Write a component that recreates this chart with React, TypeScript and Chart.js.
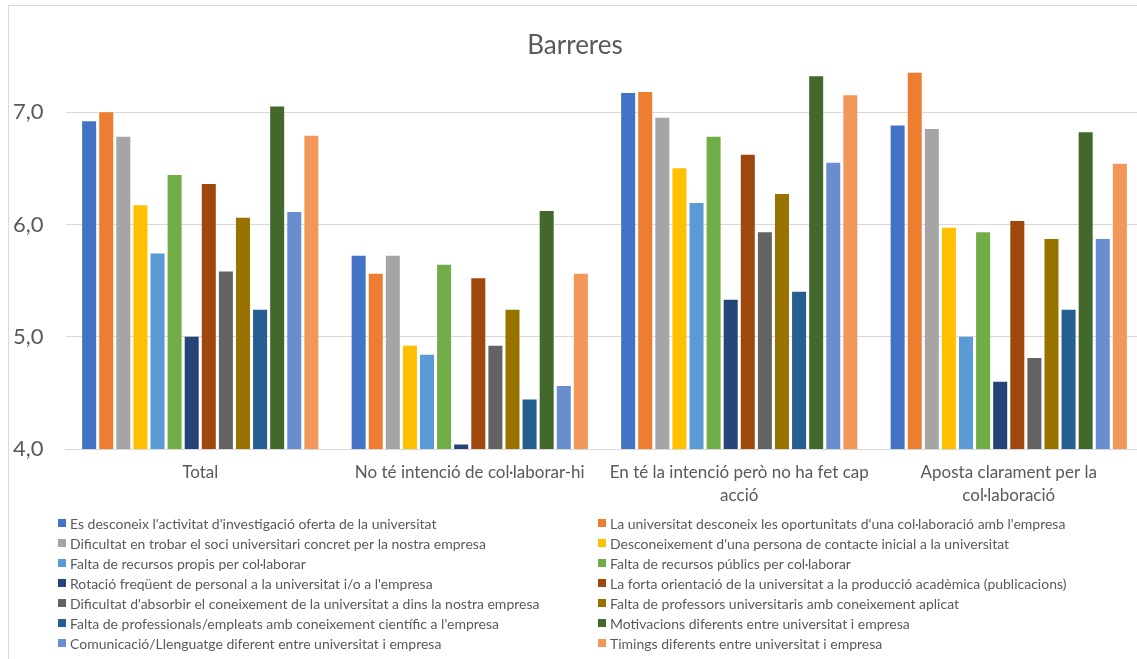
import React, { useEffect, useRef } from "react";
import { Chart, registerables } from "chart.js";

Chart.register(...registerables);

const chartTitle = "Barreres";

const categories: (string | string[])[] = [
  "Total",
  "No té intenció de col·laborar-hi",
  ["En té la intenció però no ha fet cap", "acció"],
  ["Aposta clarament per la", "col·laboració"],
];

const seriesNames = [
  "Es desconeix l'activitat d'investigació oferta de la universitat",
  "La universitat desconeix les oportunitats d'una col·laboració amb l'empresa",
  "Dificultat en trobar el soci universitari concret per la nostra empresa",
  "Desconeixement d'una persona de contacte inicial a la universitat",
  "Falta de recursos propis per col·laborar",
  "Falta de recursos públics per col·laborar",
  "Rotació freqüent de personal a la universitat i/o a l'empresa",
  "La forta orientació de la universitat a la producció acadèmica (publicacions)",
  "Dificultat d'absorbir el coneixement de la universitat a dins la nostra empresa",
  "Falta de professors universitaris amb coneixement aplicat",
  "Falta de professionals/empleats amb coneixement científic a l'empresa",
  "Motivacions diferents entre universitat i empresa",
  "Comunicació/Llenguatge diferent entre universitat i empresa",
  "Timings diferents entre universitat i empresa",
];

const desconeixActivitat = [6.92, 5.72, 7.17, 6.88];
const universitatDesconeix = [7.0, 5.56, 7.18, 7.35];
const dificultatSoci = [6.78, 5.72, 6.95, 6.85];
const desconeixementContacte = [6.17, 4.92, 6.5, 5.97];
const recursosPropis = [5.74, 4.84, 6.19, 5.0];
const recursosPublics = [6.44, 5.64, 6.78, 5.93];
const rotacioPersonal = [5.0, 4.04, 5.33, 4.6];
const orientacioAcademica = [6.36, 5.52, 6.62, 6.03];
const dificultatAbsorbir = [5.58, 4.92, 5.93, 4.81];
const professorsAplicat = [6.06, 5.24, 6.27, 5.87];
const professionalsCientific = [5.24, 4.44, 5.4, 5.24];
const motivacionsDiferents = [7.05, 6.12, 7.32, 6.82];
const comunicacioDiferent = [6.11, 4.56, 6.55, 5.87];
const timingsDiferents = [6.79, 5.56, 7.15, 6.54];

const seriesValues = [
  desconeixActivitat,
  universitatDesconeix,
  dificultatSoci,
  desconeixementContacte,
  recursosPropis,
  recursosPublics,
  rotacioPersonal,
  orientacioAcademica,
  dificultatAbsorbir,
  professorsAplicat,
  professionalsCientific,
  motivacionsDiferents,
  comunicacioDiferent,
  timingsDiferents,
];

const seriesColors = [
  "#4472C4",
  "#ED7D31",
  "#A5A5A5",
  "#FFC000",
  "#5B9BD5",
  "#70AD47",
  "#264478",
  "#9E480E",
  "#636363",
  "#997300",
  "#255E91",
  "#43682B",
  "#698ED0",
  "#F1975A",
];

const yMin = 4;
const yMax = 7.5;
const yStep = 1;

const FONT = "Lato, 'Open Sans', sans-serif";
const TEXT = "#595959";
const GRID = "#D9D9D9";

const CANVAS_W = 1150;
const CANVAS_H = 659;

const decorPlugin = {
  id: "decor",
  beforeDraw(chart: any) {
    const ctx = chart.ctx;
    ctx.save();
    ctx.fillStyle = "#FFFFFF";
    ctx.fillRect(0, 0, chart.width, chart.height);
    ctx.strokeStyle = GRID;
    ctx.lineWidth = 1;
    ctx.strokeRect(8.5, 5.5, chart.width + 20, chart.height + 20);
    ctx.restore();
  },
  afterDraw(chart: any) {
    const ctx = chart.ctx;
    ctx.save();
    // title
    ctx.fillStyle = TEXT;
    ctx.font = `26px ${FONT}`;
    ctx.textAlign = "center";
    ctx.textBaseline = "alphabetic";
    ctx.fillText(chartTitle, 575, 54);
    // legend in two columns
    ctx.font = `14px ${FONT}`;
    ctx.textAlign = "left";
    ctx.textBaseline = "middle";
    chart.data.datasets.forEach((ds: any, i: number) => {
      const col = i % 2;
      const row = Math.floor(i / 2);
      const x = 58 + col * 540;
      const y = 523 + row * 20;
      ctx.fillStyle = ds.backgroundColor;
      ctx.fillRect(x, y - 4, 8, 8);
      ctx.fillStyle = TEXT;
      ctx.fillText(ds.label, x + 12, y + 1);
    });
    ctx.restore();
  },
};

export default function App() {
  const ref = useRef<HTMLCanvasElement | null>(null);

  useEffect(() => {
    if (!ref.current) return;
    const chart = new Chart(ref.current, {
      type: "bar",
      data: {
        labels: categories,
        datasets: seriesValues.map((vals, i) => ({
          label: seriesNames[i],
          data: vals,
          backgroundColor: seriesColors[i],
          borderWidth: 0,
          categoryPercentage: 0.888,
          barPercentage: 0.82,
        })),
      },
      options: {
        responsive: false,
        animation: false,
        devicePixelRatio: 1,
        layout: {
          padding: { top: 56, left: 0, right: 6.5, bottom: 150 },
        },
        plugins: {
          legend: { display: false },
          title: { display: false },
          tooltip: { enabled: false },
        },
        scales: {
          y: {
            min: yMin,
            max: yMax,
            afterBuildTicks: (scale: any) => {
              scale.ticks = scale.ticks.filter(
                (t: any) => Math.abs(t.value - Math.round(t.value)) < 1e-9
              );
            },
            afterFit: (scale: any) => {
              scale.width = 65.5;
            },
            ticks: {
              stepSize: yStep,
              padding: 22,
              color: TEXT,
              font: { family: FONT, size: 22 },
              callback: (v: any) => Number(v).toFixed(1).replace(".", ","),
            },
            grid: { color: GRID, lineWidth: 1, drawTicks: false },
            border: { display: false },
          },
          x: {
            afterFit: (scale: any) => {
              scale.height = 60;
            },
            ticks: {
              color: TEXT,
              font: { family: FONT, size: 17, lineHeight: 1.35 },
              padding: 12,
              maxRotation: 0,
              autoSkip: false,
            },
            grid: { display: false, drawTicks: false },
            border: { display: true, color: GRID, width: 1 },
          },
        },
      },
      plugins: [decorPlugin],
    } as any);
    return () => chart.destroy();
  }, []);

  return (
    <div
      style={{
        position: "absolute",
        left: 0,
        top: 0,
        width: 1137,
        height: 659,
        overflow: "hidden",
        background: "#fff",
      }}
    >
      <canvas
        ref={ref}
        width={CANVAS_W}
        height={CANVAS_H}
        style={{ width: CANVAS_W, height: CANVAS_H, display: "block" }}
      />
    </div>
  );
}
